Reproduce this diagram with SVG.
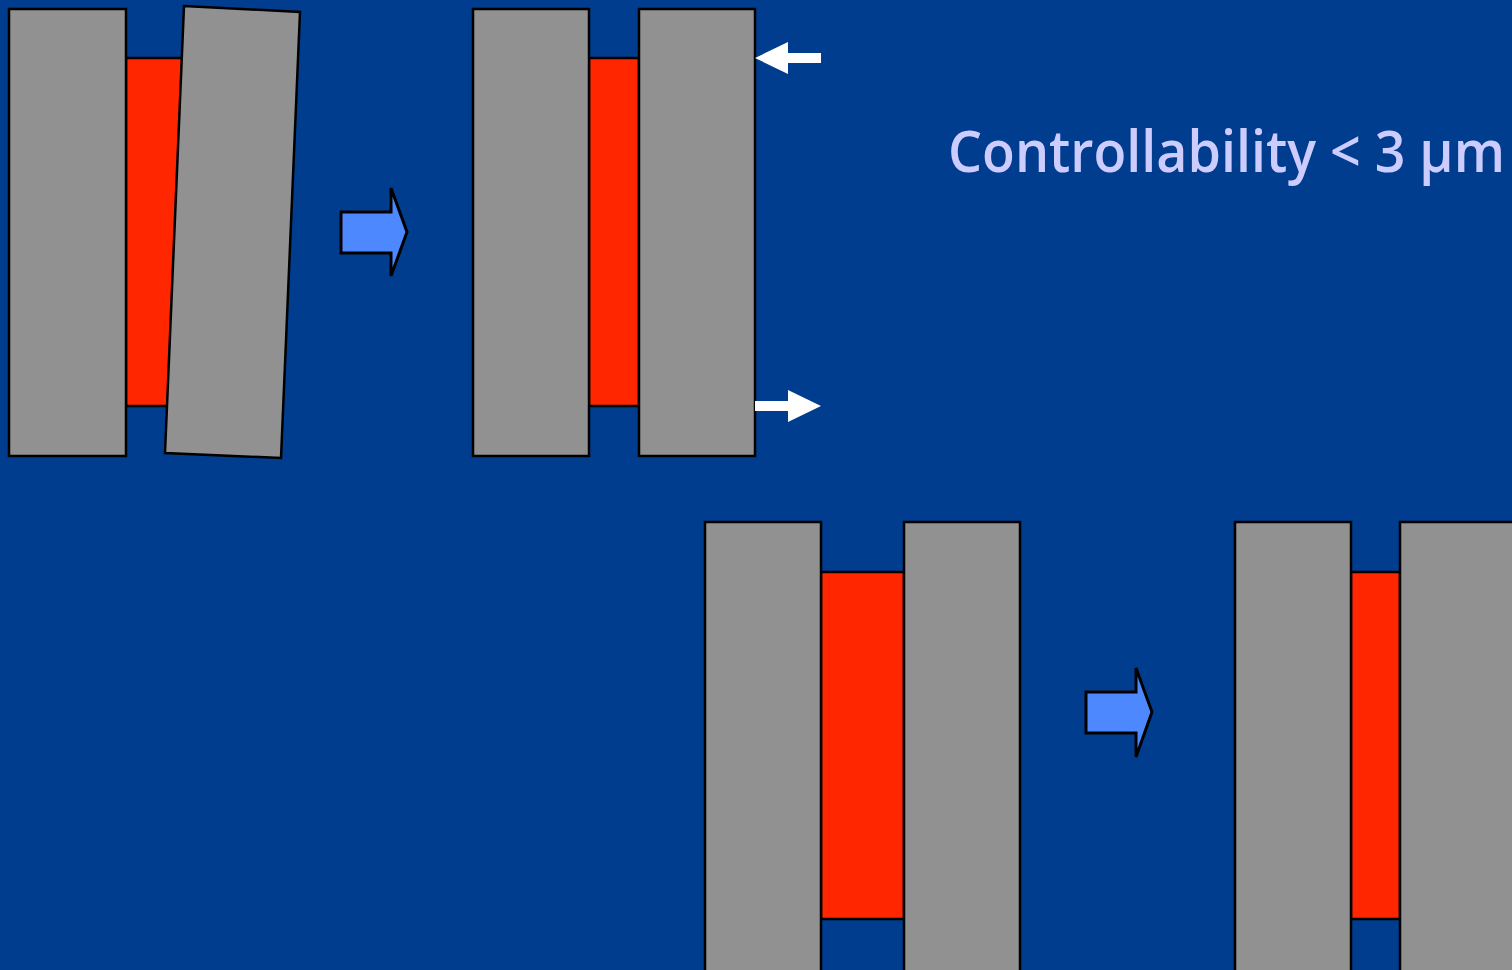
<svg xmlns="http://www.w3.org/2000/svg" width="1512" height="970" viewBox="0 0 1512 970">
  <style>
    .plate { fill: #919191; stroke: #000; stroke-width: 2.5; }
    .gap { fill: #ff2600; stroke: #000; stroke-width: 2.5; }
    .step { fill: #4d88ff; stroke: #000; stroke-width: 3; stroke-linejoin: miter; }
    .force { fill: #fff; }
    .label { font-family: "Open Sans", "DejaVu Sans", sans-serif; font-weight: 600; fill: #ccccff; font-size: 58px; }
  </style>
  <rect width="1512" height="970" fill="#003d8f"/>

  <!-- stage 1: tilted plate -->
  <g id="stage1">
    <rect class="gap" x="126" y="58" width="60" height="348"/>
    <rect class="plate" x="9" y="9" width="117" height="447"/>
    <polygon class="plate" points="184,6 300,12 281,458 165,453"/>
  </g>

  <!-- stage 2: parallel plates with forces -->
  <g id="stage2">
    <rect class="gap" x="589" y="58" width="50" height="348"/>
    <rect class="plate" x="473" y="9" width="116" height="447"/>
    <rect class="plate" x="639" y="9" width="116" height="447"/>
  </g>

  <!-- stage 3: wide gap -->
  <g id="stage3">
    <rect class="gap" x="821" y="572" width="83" height="347"/>
    <rect class="plate" x="705" y="522" width="116" height="460"/>
    <rect class="plate" x="904" y="522" width="116" height="460"/>
  </g>

  <!-- stage 4: narrow gap -->
  <g id="stage4">
    <rect class="gap" x="1351" y="572" width="49" height="347"/>
    <rect class="plate" x="1235" y="522" width="116" height="460"/>
    <rect class="plate" x="1400" y="522" width="130" height="460"/>
  </g>

  <g id="connectors">
    <polygon class="step" points="341,212 391,212 391,188 407,232 391,276 391,253 341,253"/>
    <polygon class="step" points="1086,692 1136,692 1136,668 1152,712 1136,757 1136,733 1086,733"/>
    <polygon class="force" points="755,58 788,42 788,53 821,53 821,63 788,63 788,74"/>
    <polygon class="force" points="821,406 788,390 788,401 755,401 755,411 788,411 788,422"/>
  </g>

  <g id="caption">
    <text class="label" x="948" y="172" textLength="557" lengthAdjust="spacingAndGlyphs">Controllability &lt; 3 µm</text>
  </g>
</svg>
